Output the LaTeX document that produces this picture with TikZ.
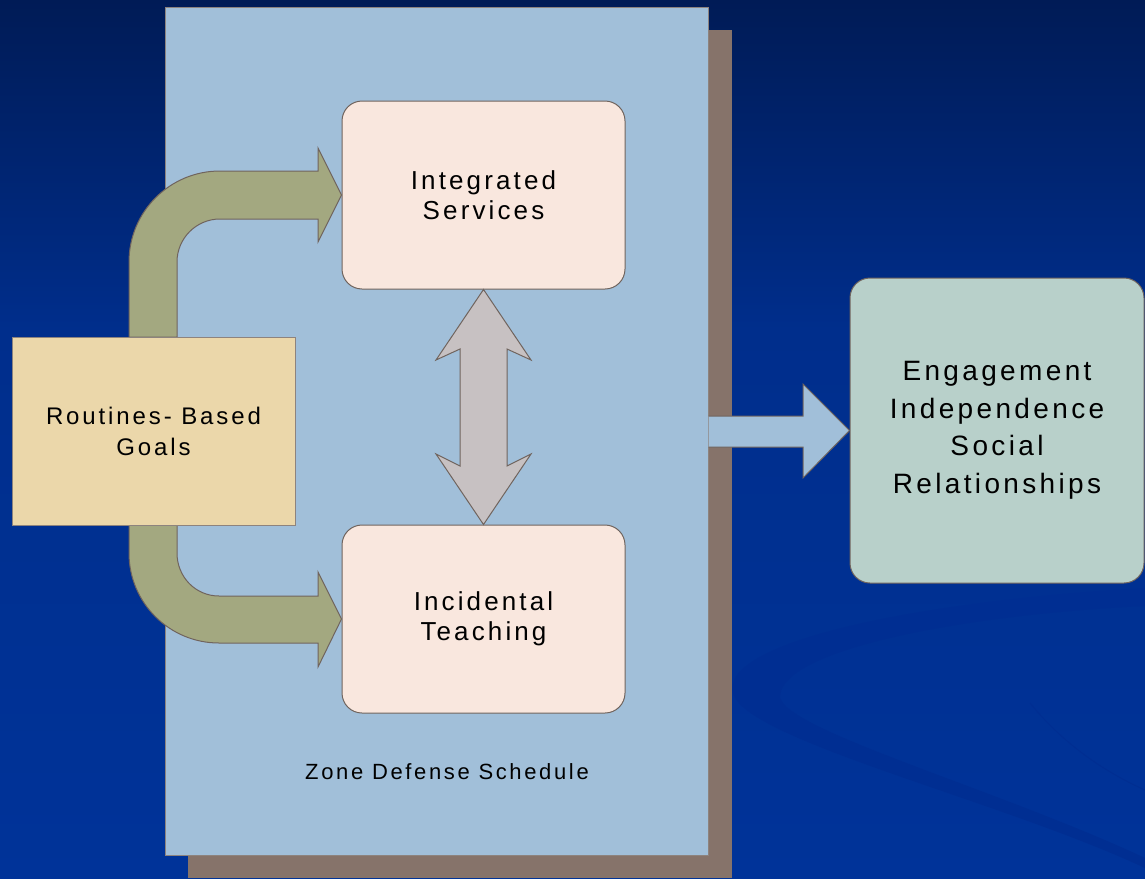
\documentclass[tikz,border=0pt]{standalone}
\usepackage{fontspec}
\setmainfont{Liberation Sans}
\newfontfamily\labfont[LetterSpace=12]{Liberation Sans}
\usetikzlibrary{calc}
\definecolor{bgtop}{RGB}{0,27,86}
\definecolor{bgmid}{RGB}{0,46,140}
\definecolor{bgbot}{RGB}{0,51,153}
\definecolor{swoosh}{RGB}{0,46,146}
\definecolor{panelblue}{RGB}{161,191,217}
\definecolor{shadowbrown}{RGB}{134,115,106}
\definecolor{peach}{RGB}{249,231,222}
\definecolor{sand}{RGB}{235,215,170}
\definecolor{sage}{RGB}{184,208,202}
\definecolor{olive}{RGB}{163,168,128}
\definecolor{greyarrow}{RGB}{199,193,194}
\definecolor{edge}{RGB}{112,100,94}
\tikzset{
  boxstyle/.style={draw=edge, line width=1pt, align=center, text=black, inner sep=0pt},
  roundbox/.style={boxstyle, rounded corners=20pt, fill=peach, minimum width=283pt, minimum height=188pt, font=\labfont\fontsize{26}{30}\selectfont},
  blockarrow/.style={draw=edge, line width=1pt, line join=miter},
}
\begin{document}
\begin{tikzpicture}[x=1pt,y=-1pt]
\useasboundingbox (0,0) rectangle (1145,878);
% background
\shade[top color=bgtop, bottom color=bgmid] (0,0) rectangle (1145,330);
\shade[top color=bgmid, bottom color=bgbot] (0,329) rectangle (1145,878);
% decorative swoosh
\fill[swoosh] (1145,588) .. controls (930,600) and (720,640) .. (733,693)
  .. controls (745,740) and (1000,800) .. (1145,868) -- (1145,858)
  .. controls (1000,790) and (785,730) .. (780,697)
  .. controls (780,650) and (960,615) .. (1145,606) -- cycle;
\draw[swoosh, line width=1pt] (1030,703) .. controls (1060,740) and (1100,770) .. (1145,790);
% shadow and panel
\fill[shadowbrown] (188,30) rectangle (732,878);
\node[boxstyle, fill=panelblue, draw=edge!80, minimum width=543pt, minimum height=848pt] (panel) at (436.5,431) {};
% boxes
\node[roundbox] (IS) at (483.5,195) {Integrated\\Services};
\node[roundbox] (IT) at (483.5,619) {Incidental\\Teaching};
\node[boxstyle, rounded corners=20pt, fill=sage, minimum width=294pt, minimum height=305pt,
  font=\labfont\fontsize{28}{37.5}\selectfont] (EN) at (997,430.5) {Engagement\\Independence\\Social\\Relationships};
% green curved arrows
\draw[blockarrow, fill=olive] (129,337) -- (129,262) .. controls (129,211.7) and (169.7,171) .. (220,171)
  -- (318,171) -- (318,148) -- (IS.west) -- (318,242) -- (318,219) -- (220,219)
  .. controls (196.3,219) and (177,238.3) .. (177,262) -- (177,337) -- cycle;
\draw[blockarrow, fill=olive] (129,525) -- (129,553) .. controls (129,602.7) and (169.3,643) .. (219,643)
  -- (318,643) -- (318,667) -- (IT.west) -- (318,572) -- (318,596) -- (219,596)
  .. controls (195.3,596) and (177,576.7) .. (177,553) -- (177,525) -- cycle;
\node[boxstyle, fill=sand, draw=edge!80, minimum width=283pt, minimum height=188pt,
  font=\labfont\fontsize{24}{31}\selectfont] (RB) at (153.5,431) {Routines- Based\\Goals};
% double arrow
\draw[blockarrow, fill=greyarrow] (IS.south) -- (531,360) -- (507,349) -- (507,466) -- (531,454)
  -- (IT.north) -- (436,454) -- (460,466) -- (460,349) -- (436,360) -- cycle;
% right arrow
\draw[blockarrow, fill=panelblue] (panel.east |- 0,416) -- (803,416) -- (803,384) -- (EN.west)
  -- (803,478) -- (803,447) -- (panel.east |- 0,447);
% label
\node[font=\labfont\fontsize{22}{26}\selectfont, text=black] (zone) at (447,772) {Zone Defense Schedule};
\end{tikzpicture}
\end{document}
